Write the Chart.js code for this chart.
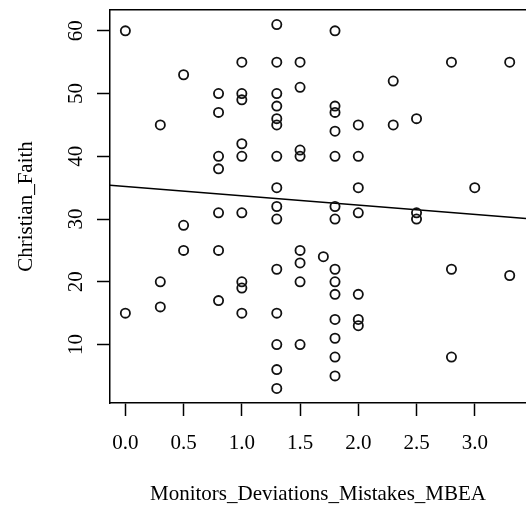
<!DOCTYPE html>
<html>
<head>
<meta charset="utf-8">
<script src="https://cdn.jsdelivr.net/npm/chart.js@4"></script>
<style>
  html, body { margin: 0; padding: 0; background: #fff; overflow: hidden; }
  #wrap { width: 526px; height: 508px; position: relative; }
</style>
</head>
<body>
<div id="wrap"><canvas id="myChart"></canvas></div>
<script>
// data
const mbea = [
    0.0, 0.0,
    0.3, 0.3, 0.3,
    0.5, 0.5, 0.5,
    0.8, 0.8, 0.8, 0.8, 0.8, 0.8, 0.8,
    1.0, 1.0, 1.0, 1.0, 1.0, 1.0, 1.0, 1.0, 1.0,
    1.3, 1.3, 1.3, 1.3, 1.3, 1.3, 1.3, 1.3, 1.3, 1.3, 1.3, 1.3, 1.3, 1.3, 1.3,
    1.5, 1.5, 1.5, 1.5, 1.5, 1.5, 1.5, 1.5,
    1.7,
    1.8, 1.8, 1.8, 1.8, 1.8, 1.8, 1.8, 1.8, 1.8, 1.8, 1.8, 1.8, 1.8, 1.8,
    2.0, 2.0, 2.0, 2.0, 2.0, 2.0, 2.0,
    2.3, 2.3,
    2.5, 2.5, 2.5,
    2.8, 2.8, 2.8,
    3.0,
    3.3, 3.3
];
const faith = [
    60, 15,
    45, 20, 16,
    53, 29, 25,
    50, 47, 40, 38, 31, 25, 17,
    55, 50, 49, 42, 40, 31, 20, 19, 15,
    61, 55, 50, 48, 46, 45, 40, 35, 32, 30, 22, 15, 10, 6, 3,
    55, 51, 41, 40, 25, 23, 20, 10,
    24,
    60, 48, 47, 44, 40, 32, 30, 22, 20, 18, 14, 11, 8, 5,
    45, 40, 35, 31, 18, 14, 13,
    52, 45,
    46, 31, 30,
    55, 22, 8,
    35,
    55, 21
];
// regression line ends
const fitX = [-0.132, 3.44];
const fitY = [35.4, 30.07];

const xTicks = [0, 0.5, 1, 1.5, 2, 2.5, 3];
const yTicks = [10, 20, 30, 40, 50, 60];

const xTitle = 'Monitors_Deviations_Mistakes_MBEA';
const yTitle = 'Christian_Faith';

const FONT = 'Liberation Serif';
Chart.defaults.font.family = FONT;
Chart.defaults.font.size = 21;
Chart.defaults.color = '#000';

const points = mbea.map((x, i) => ({ x: x, y: faith[i] }));
const fitLine = fitX.map((x, i) => ({ x: x, y: fitY[i] }));

// y tick labels are turned like R does
const yLabels = {
    id: 'yLabels',
    afterDraw(chart) {
        const ctx = chart.ctx;
        const sc = chart.scales.y;
        ctx.save();
        ctx.fillStyle = '#000';
        ctx.font = '21px "' + FONT + '"';
        ctx.textAlign = 'center';
        ctx.textBaseline = 'alphabetic';
        sc.ticks.forEach(t => {
            ctx.save();
            ctx.translate(82, sc.getPixelForValue(t.value));
            ctx.rotate(-Math.PI / 2);
            ctx.fillText(String(t.value), 0, 0);
            ctx.restore();
        });
        ctx.restore();
    }
};

function noSidePad(sc) {
    sc.paddingLeft = 0;
    sc.paddingRight = 0;
}

const ctx = document.getElementById('myChart').getContext('2d');
new Chart(ctx, {
    type: 'scatter',
    data: {
        datasets: [{
            label: 'points',
            data: points,
            pointStyle: 'circle',
            pointRadius: 4.6,
            pointBorderWidth: 1.8,
            pointBorderColor: '#111',
            pointBackgroundColor: 'rgba(0,0,0,0)',
            showLine: false
        },
        {
            label: 'fit',
            type: 'line',
            data: fitLine,
            borderColor: '#000',
            borderWidth: 1.5,
            pointRadius: 0,
            fill: false,
            tension: 0
        }]
    },
    options: {
        responsive: true,
        maintainAspectRatio: false,
        animation: false,
        layout: { padding: 0, autoPadding: false },
        plugins: {
            legend: { display: false },
            tooltip: { enabled: false }
        },
        scales: {
            x: {
                type: 'linear',
                position: 'bottom',
                min: -0.132,
                max: 3.44,
                afterBuildTicks: sc => { sc.ticks = xTicks.map(v => ({ value: v })); },
                afterFit: sc => { sc.height = 105; noSidePad(sc); },
                ticks: {
                    autoSkip: false,
                    maxRotation: 0,
                    padding: 15,
                    callback: v => Number(v).toFixed(1)
                },
                grid: {
                    drawOnChartArea: false,
                    drawTicks: true,
                    tickLength: 13,
                    tickWidth: 1.5,
                    tickColor: '#000'
                },
                border: { display: true, color: '#000', width: 1.5 },
                title: {
                    display: true,
                    text: xTitle,
                    padding: { top: 0, bottom: 1 }
                }
            },
            x2: {
                type: 'linear',
                position: 'top',
                min: -0.132,
                max: 3.44,
                afterFit: sc => { sc.height = 10; noSidePad(sc); },
                ticks: { display: false },
                grid: { display: false },
                border: { display: true, color: '#000', width: 1.5 }
            },
            y: {
                type: 'linear',
                position: 'left',
                min: 0.68,
                max: 63.32,
                afterBuildTicks: sc => { sc.ticks = yTicks.map(v => ({ value: v })); },
                afterFit: sc => { sc.width = 110; sc.paddingTop = 0; sc.paddingBottom = 0; },
                ticks: { display: false },
                grid: {
                    drawOnChartArea: false,
                    drawTicks: true,
                    tickLength: 13,
                    tickWidth: 1.5,
                    tickColor: '#000'
                },
                border: { display: true, color: '#000', width: 1.5 },
                title: {
                    display: true,
                    text: yTitle,
                    padding: { top: 14, bottom: 0 }
                }
            }
        }
    },
    plugins: [yLabels]
});
</script>
</body>
</html>
